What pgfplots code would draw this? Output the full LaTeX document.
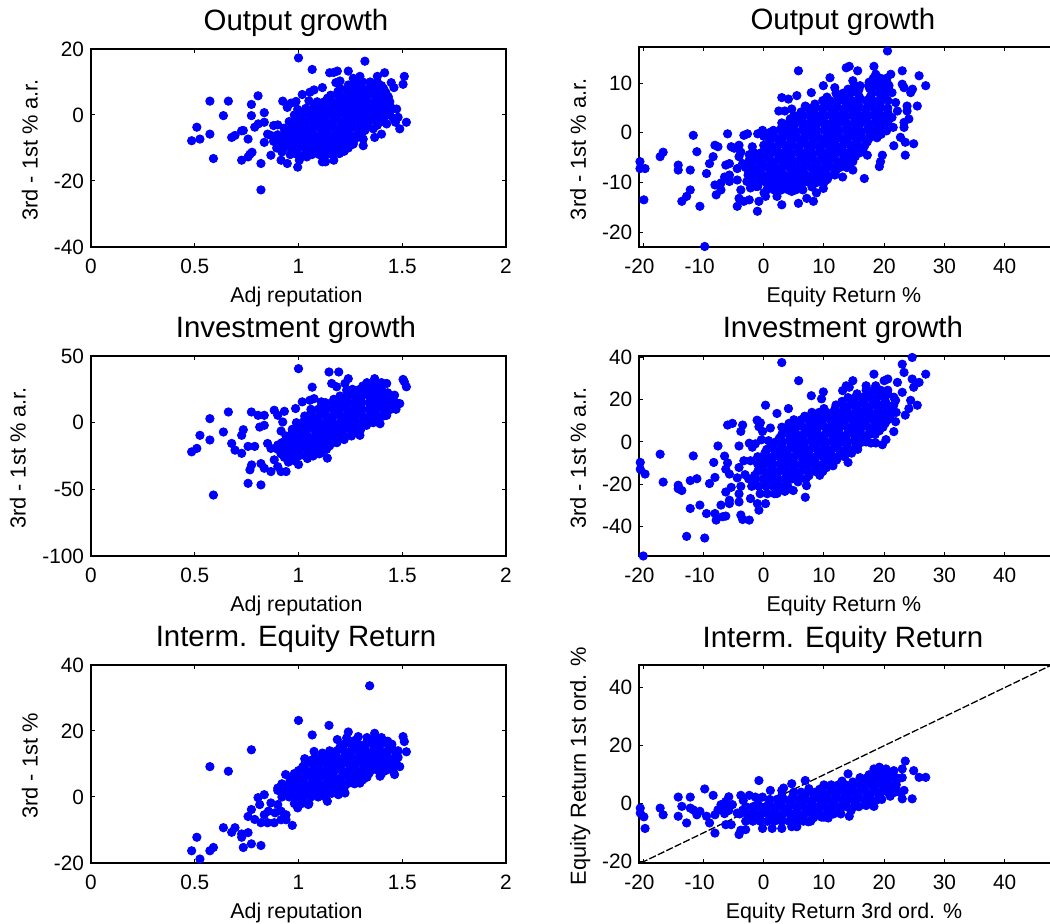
\documentclass[border=0pt]{standalone}
\usepackage{fontspec}
\setmainfont{Liberation Sans}
\usepackage{pgfplots}
\pgfplotsset{compat=1.18}
\definecolor{mblue}{rgb}{0,0,1}
\pgfplotsset{
 panel/.style={
  scale only axis, clip=false, tick align=inside, major tick length=2pt,
  tick style={black,line width=0.5pt}, axis line style={black,line width=1pt,-},
  /pgf/number format/assume math mode=true,
  xticklabel style={anchor=base,yshift=-13.5pt,font=\fontsize{10.4}{12}\selectfont},
  yticklabel style={anchor=east,inner sep=0pt,xshift=-3.3pt,font=\fontsize{10.4}{12}\selectfont},
  every axis x label/.style={anchor=base,font=\fontsize{10.7}{12}\selectfont},
  every axis y label/.style={anchor=base,rotate=90,font=\fontsize{10.9}{12}\selectfont},
  every axis title/.style={anchor=base,font=\fontsize{14.7}{17}\selectfont},
 },
 leftp/.style={panel,width=207.5pt,xmin=0,xmax=2,xtick={0,0.5,1,1.5,2},xticklabels={0,0.5,1,1.5,2},
  xlabel={Adj reputation},
  x label style={at={(axis description cs:0.495,-0.278)}},
  title style={at={(axis description cs:0.494,1.091)}}},
 rightp/.style={panel,width=207.35pt,xmin=-20.66,xmax=48.2,xtick={-20,-10,0,10,20,30,40},
  xticklabels={-20\kern3.8pt,-10\kern3.8pt,0,10,20,30,40},
  title style={at={(axis description cs:0.491,1.09)}},
  x label style={at={(axis description cs:0.4935,-0.278)}}},
 dots/.style={only marks,mark=*,mark size=2.1pt,color=mblue,mark options={fill=mblue,draw=none}},
}
\begin{document}
\begin{tikzpicture}
\useasboundingbox (0,0) rectangle (525pt,462pt);
% ---------- row 1 left
\begin{axis}[leftp,at={(45.5pt,338.5pt)},anchor=south west,height=99pt,ymin=-40,ymax=20,
 ytick={-40,-20,0,20},yticklabels={-40,-20,0,20},
 ylabel={3rd - 1st \% a.r.},y label style={at={(axis description cs:-0.1284,0.49)}},title={Output growth}]
\addplot[dots] coordinates {
(1.00,17.3)(1.066,13.8)(1.32,16.3)(1.24,13.3)(1.187,13.3)(1.15,12.8)(1.17,12.9)(1.415,12.8)(1.51,11.7)(1.504,9.3)(1.46,8.3)(1.447,9.8)(1.38,11.7)(1.296,11.7)(1.264,11.1)(1.115,8.3)(1.075,7.6)(1.055,6.9)(1.018,6.2)(1.18,9.8)(1.2,10.3)(0.988,4.1)(0.964,3.6)(0.924,4.2)(0.946,2.3)(1.05,4.3)(0.996,1.7)(0.573,4.2)(0.662,4.2)(0.805,5.8)(0.773,3.2)(0.638,-0.2)(0.773,-0.2)(0.835,0.7)(0.51,-3.7)(0.573,-5.8)(0.485,-7.8)(0.525,-7.3)(0.59,-13.2)(0.678,-6.8)(0.694,-6.2)(0.726,-4.8)(0.734,-4.7)(0.757,-7.3)(0.789,-3.7)(0.806,-2.7)(0.835,-2.2)(0.851,-5.8)(0.867,-6.2)(0.835,-8.3)(0.726,-13.7)(0.757,-12.7)(0.766,-11.9)(0.776,-11.3)(0.819,-14.7)(0.819,-22.7)(0.867,-12.2)(0.916,-13.7)(0.946,-14.7)(0.996,-15.8)(1.004,-13.7)(1.04,-12.7)(1.115,-14.2)(1.13,-14.2)(1.17,-13.7)(1.197,-11.7)(1.104,-11.7)(1.264,-8.8)(1.312,-9.3)(1.312,-7.3)(1.32,-4.7)(1.367,-6.8)(1.4,-5.8)(1.36,-4.2)(1.425,-2.7)(1.488,-4.2)(1.52,-2.2)(1.467,-2.2)(1.457,-1)(1.48,-0.7)(1.473,1.8)(1.44,2.5)(1.433,5.5)(0.88,-3.2)(0.9,-3)
(0.96,-12)(0.995,-12)(1.03,-12)(1.065,-12)(1.1,-12)(1.135,-12)(1.17,-12)
(0.895,-10)(0.93,-10)(0.965,-10)(1,-10)(1.035,-10)(1.07,-10)(1.105,-10)(1.14,-10)(1.175,-10)(1.21,-10)(1.24,-10)
(0.88,-8)(0.915,-8)(0.95,-8)(0.985,-8)(1.02,-8)(1.055,-8)(1.09,-8)(1.125,-8)(1.16,-8)(1.195,-8)(1.23,-8)(1.265,-8)
(0.9,-6)(0.935,-6)(0.97,-6)(1.005,-6)(1.04,-6)(1.075,-6)(1.11,-6)(1.145,-6)(1.18,-6)(1.215,-6)(1.25,-6)(1.285,-6)
(0.93,-4)(0.965,-4)(1,-4)(1.035,-4)(1.07,-4)(1.105,-4)(1.14,-4)(1.175,-4)(1.21,-4)(1.245,-4)(1.28,-4)(1.315,-4)
(0.955,-2)(0.99,-2)(1.025,-2)(1.06,-2)(1.095,-2)(1.13,-2)(1.165,-2)(1.2,-2)(1.235,-2)(1.27,-2)(1.305,-2)(1.34,-2)(1.375,-2)(1.4,-2)
(0.98,0)(1.015,0)(1.05,0)(1.085,0)(1.12,0)(1.155,0)(1.19,0)(1.225,0)(1.26,0)(1.295,0)(1.33,0)(1.365,0)(1.4,0)(1.43,0)
(1.035,2)(1.07,2)(1.105,2)(1.14,2)(1.175,2)(1.21,2)(1.245,2)(1.28,2)(1.315,2)(1.35,2)(1.385,2)(1.42,2)(1.45,2)
(1.09,4)(1.125,4)(1.16,4)(1.195,4)(1.23,4)(1.265,4)(1.3,4)(1.335,4)(1.37,4)(1.405,4)(1.44,4)
(1.155,6)(1.19,6)(1.225,6)(1.26,6)(1.295,6)(1.33,6)(1.365,6)(1.4,6)(1.425,6)
(1.2,8)(1.235,8)(1.27,8)(1.305,8)(1.34,8)(1.375,8)(1.41,8)
(1.275,10)(1.31,10)(1.345,10)(1.38,10)
(0.92,-11.2)(0.98,-10.8)(1.04,-11.3)(1.10,-10.9)(1.16,-11.1)(1.22,-11)
(0.90,-9.2)(0.96,-8.9)(1.02,-9.1)(1.08,-8.8)(1.14,-9.2)(1.20,-9)(1.26,-8.9)
(0.92,-7.1)(0.98,-6.8)(1.04,-7.2)(1.10,-7)(1.16,-6.9)(1.22,-7.1)(1.28,-6.9)
(0.94,-5.2)(1,-4.9)(1.06,-5.1)(1.12,-4.8)(1.18,-5.2)(1.24,-5)(1.30,-4.9)
(0.97,-3.1)(1.03,-2.8)(1.09,-3.2)(1.15,-3)(1.21,-2.9)(1.27,-3.1)(1.33,-2.9)(1.38,-3.1)
(1,-1.1)(1.06,-0.8)(1.12,-1.2)(1.18,-1)(1.24,-0.9)(1.3,-1.1)(1.36,-0.9)(1.41,-1.1)
(1.03,0.9)(1.09,1.2)(1.15,0.8)(1.21,1)(1.27,1.1)(1.33,0.9)(1.39,1.1)(1.44,0.9)
(1.08,3.1)(1.14,2.8)(1.2,3.2)(1.26,3)(1.32,2.9)(1.38,3.1)(1.44,2.9)
(1.14,5.1)(1.2,4.8)(1.26,5.2)(1.32,5)(1.38,4.9)(1.43,5.1)
(1.19,7.1)(1.25,6.8)(1.31,7.2)(1.37,7)(1.42,6.9)
(1.24,9.1)(1.30,8.9)(1.36,9.1)(1.40,8.9)
};
\end{axis}
% ---------- row 1 right
\begin{axis}[rightp,at={(319.65pt,338.5pt)},anchor=south west,height=99.75pt,ymin=-23,ymax=17.2,
 ytick={-20,-10,0,10},yticklabels={-20,-10,0,10},xlabel={Equity Return \%},
 ylabel={3rd - 1st \% a.r.},y label style={at={(axis description cs:-0.1286,0.49)}},title={Output growth}]
\addplot[dots] coordinates {
(20.55,16.5)(-9.8,-22.9)(5.76,12.5)(13.7,13.1)(14.2,13.4)(18.3,13.4)(15.6,12.5)(23,12.5)(18.6,11.8)(21.1,11.8)(11,11.1)(25.8,11.5)(26.9,9.5)(23,9.8)(23.3,9.1)(24.7,8.8)(24.4,8.1)(9.9,9.5)(7.9,8.1)(11.8,9.1)(5.5,7.5)(4.1,6.8)(3,7.1)(14.8,10.5)(6.9,5.4)(2.5,4.4)(3.5,4.4)(4.65,4.8)(25.5,5.4)(23.8,5.4)(23.8,4.4)(22.2,4.4)(24.1,2.8)(23.3,2.1)(23.3,1.1)(21.3,3.1)(21.9,6.1)(21.3,8.1)(24.9,-2.2)(23.5,-1.9)(21.6,-2.6)(23.5,-4.5)(22.7,-0.9)(21.5,1.1)(20.4,0.4)(19.7,-4.5)(19.4,-5.8)(19.2,-6.8)(17.2,-4.5)(16.7,-9.2)(14.8,-7.5)(14.8,-5.8)(13.7,-6.8)(13.1,-8.9)(15.9,-3.8)(10.4,-9.5)(9.9,-11.2)(8.75,-12.1)(8.25,-13.8)(7.15,-13.2)(5.76,-14.2)(4.65,-11.8)(3,-14.5)(3.3,-11.1)(2.2,-12.8)(0.3,-12.8)(0.05,-12.1)(-0.8,-13.8)(-1.05,-15.8)(-2.4,-13.5)(-3.3,-13.8)(-4.4,-14.8)(-4.1,-13.2)(-3.8,-11.5)(-4.4,-9.5)(-6,-0.2)(-11.7,-0.5)(-16.7,-3.9)(-17.2,-4.8)(-11.1,-3.8)(-20.55,-5.8)(-20.55,-7.2)(-19.7,-7.2)(-19.9,-13.5)(-14.2,-6.5)(-14.2,-7.5)(-12.2,-7.5)(-12.2,-11.5)(-12.8,-12.8)(-13.6,-13.8)(-10.6,-14.8)(-9.5,-8.2)(-9,-6.2)(-8.4,-4.8)(-8.1,-2.5)(-7.6,-2.8)(-8.1,-10.5)(-7.9,-12.5)(-7.1,-11.5)(-7.1,-10.1)(-6.3,-6.5)(-5.7,-6.2)(-6.5,-8.9)(-5.7,-8.5)(-5.7,-9.8)(-5.4,-2.8)(-4.9,-3.1)(-4.1,-2.5)(-3.3,-0.5)(-2.7,-0.2)(-4.1,-4.8)(-3.8,-3.9)(-4.4,-7.2)(-3.5,-6.2)(-2.4,-6.8)(-2.4,-4.4)(-1.9,-2.8)(-1,-0.2)(-0.2,0.5)(1.05,0.1)(-2.8,-9.8)(-2.2,-11.1)(-1.3,-10.8)(0,-0.7)
(0.5,-11.5)(1.7,-11.5)(2.9,-11.5)(4.1,-11.5)(5.3,-11.5)(6.5,-11.5)
(-2,-10)(-0.8,-10)(0.4,-10)(1.6,-10)(2.8,-10)(4,-10)(5.2,-10)(6.4,-10)(7.6,-10)(8.8,-10)(10,-10)
(-2.6,-8.5)(-1.4,-8.5)(-0.2,-8.5)(1,-8.5)(2.2,-8.5)(3.4,-8.5)(4.6,-8.5)(5.8,-8.5)(7,-8.5)(8.2,-8.5)(9.4,-8.5)(10.6,-8.5)(11.8,-8.5)
(-3,-7)(-1.8,-7)(-0.6,-7)(0.6,-7)(1.8,-7)(3,-7)(4.2,-7)(5.4,-7)(6.6,-7)(7.8,-7)(9,-7)(10.2,-7)(11.4,-7)(12.6,-7)(13.8,-7)
(-2.4,-5.5)(-1.2,-5.5)(0,-5.5)(1.2,-5.5)(2.4,-5.5)(3.6,-5.5)(4.8,-5.5)(6,-5.5)(7.2,-5.5)(8.4,-5.5)(9.6,-5.5)(10.8,-5.5)(12,-5.5)(13.2,-5.5)(14.4,-5.5)
(-1.6,-4)(-0.4,-4)(0.8,-4)(2,-4)(3.2,-4)(4.4,-4)(5.6,-4)(6.8,-4)(8,-4)(9.2,-4)(10.4,-4)(11.6,-4)(12.8,-4)(14,-4)(15.2,-4)(16,-4)
(0,-2.5)(1.2,-2.5)(2.4,-2.5)(3.6,-2.5)(4.8,-2.5)(6,-2.5)(7.2,-2.5)(8.4,-2.5)(9.6,-2.5)(10.8,-2.5)(12,-2.5)(13.2,-2.5)(14.4,-2.5)(15.6,-2.5)(16.8,-2.5)
(0.8,-1)(2,-1)(3.2,-1)(4.4,-1)(5.6,-1)(6.8,-1)(8,-1)(9.2,-1)(10.4,-1)(11.6,-1)(12.8,-1)(14,-1)(15.2,-1)(16.4,-1)(17.6,-1)(18.8,-1)
(1.6,0.5)(2.8,0.5)(4,0.5)(5.2,0.5)(6.4,0.5)(7.6,0.5)(8.8,0.5)(10,0.5)(11.2,0.5)(12.4,0.5)(13.6,0.5)(14.8,0.5)(16,0.5)(17.2,0.5)(18.4,0.5)(19.6,0.5)
(3,2)(4.2,2)(5.4,2)(6.6,2)(7.8,2)(9,2)(10.2,2)(11.4,2)(12.6,2)(13.8,2)(15,2)(16.2,2)(17.4,2)(18.6,2)(19.8,2)(20.6,2)
(5,3.5)(6.2,3.5)(7.4,3.5)(8.6,3.5)(9.8,3.5)(11,3.5)(12.2,3.5)(13.4,3.5)(14.6,3.5)(15.8,3.5)(17,3.5)(18.2,3.5)(19.4,3.5)(20.6,3.5)
(7.4,5)(8.6,5)(9.8,5)(11,5)(12.2,5)(13.4,5)(14.6,5)(15.8,5)(17,5)(18.2,5)(19.4,5)(20.6,5)
(9.8,6.5)(11,6.5)(12.2,6.5)(13.4,6.5)(14.6,6.5)(15.8,6.5)(17,6.5)(18.2,6.5)(19.4,6.5)(20.6,6.5)
(12,8)(13.2,8)(14.4,8)(15.6,8)(18,8)(19.2,8)(20.4,8)
(15,9.5)(16,9.5)(17.4,9.5)(18.6,9.5)(19.8,9.5)(20.8,9.5)
(18.2,11)(19.4,11)(20.4,11)
(-1,-10.8)(0.8,-10.7)(2.6,-10.9)(4.4,-10.8)(6.2,-10.7)(8,-10.9)
(-2,-9.2)(-0.2,-9.3)(1.6,-9.1)(3.4,-9.2)(5.2,-9.3)(7,-9.1)(8.8,-9.2)(10.6,-9.3)
(-2.5,-7.8)(-0.7,-7.7)(1.1,-7.9)(2.9,-7.8)(4.7,-7.7)(6.5,-7.9)(8.3,-7.8)(10.1,-7.7)(11.9,-7.9)
(-2,-6.2)(-0.2,-6.3)(1.6,-6.1)(3.4,-6.2)(5.2,-6.3)(7,-6.1)(8.8,-6.2)(10.6,-6.3)(12.4,-6.1)(14.2,-6.2)
(-1,-4.8)(0.8,-4.7)(2.6,-4.9)(4.4,-4.8)(6.2,-4.7)(8,-4.9)(9.8,-4.8)(11.6,-4.7)(13.4,-4.9)(15.2,-4.8)
(0.3,-3.2)(2.1,-3.3)(3.9,-3.1)(5.7,-3.2)(7.5,-3.3)(9.3,-3.1)(11.1,-3.2)(12.9,-3.3)(14.7,-3.1)(16.5,-3.2)
(1,-1.8)(2.8,-1.7)(4.6,-1.9)(6.4,-1.8)(8.2,-1.7)(10,-1.9)(11.8,-1.8)(13.6,-1.7)(15.4,-1.9)(17.2,-1.8)
(1.5,-0.2)(3.3,-0.3)(5.1,-0.1)(6.9,-0.2)(8.7,-0.3)(10.5,-0.1)(12.3,-0.2)(14.1,-0.3)(15.9,-0.1)(17.7,-0.2)(19.5,-0.3)
(3,1.2)(4.8,1.3)(6.6,1.1)(8.4,1.2)(10.2,1.3)(12,1.1)(13.8,1.2)(15.6,1.3)(17.4,1.1)(19.2,1.2)
(4.4,2.8)(6.2,2.7)(8,2.9)(9.8,2.8)(11.6,2.7)(13.4,2.9)(15.2,2.8)(17,2.7)(18.8,2.9)(20.6,2.8)
(6.2,4.2)(8,4.3)(9.8,4.1)(11.6,4.2)(13.4,4.3)(15.2,4.1)(17,4.2)(18.8,4.3)(20.6,4.1)
(8.5,5.8)(10.3,5.7)(12.1,5.9)(13.9,5.8)(15.7,5.7)(17.5,5.9)(19.3,5.8)
(10.5,7.2)(12.3,7.3)(14.1,7.1)(15.9,7.2)(17.7,7.3)(19.5,7.1)
(14,8.8)(15.8,8.7)(17.6,8.9)(19.4,8.8)
(17.5,10.2)(19.2,10.3)(20.5,10.1)
};
\end{axis}
% ---------- row 2 left
\begin{axis}[leftp,at={(45.5pt,184pt)},anchor=south west,height=100pt,ymin=-100,ymax=50,
 ytick={-100,-50,0,50},yticklabels={-100,-50,0,50},
 ylabel={3rd - 1st \% a.r.},y label style={at={(axis description cs:-0.1573,0.49)}},title={Investment growth}]
\addplot[dots] coordinates {
(1,40.5)(1.147,38)(1.194,38)(1.24,33)(1.224,29.4)(1.16,29.4)(1.184,26.9)(1.066,26.6)(1.232,24.4)(1.367,33)(1.425,29.4)(1.504,32.4)(1.51,30.7)(1.52,26.9)(1.463,20.6)(1.488,14.3)(1.473,13)(1.425,5.5)(1.393,-0.8)(1.328,-2)(1.296,-9.5)(1.139,-26.6)(1.018,15.6)(0.986,10.6)(1.075,18)(1.055,16.8)(1.11,15.6)(0.883,9.3)(0.932,8.5)(0.9,5.5)(0.835,5.5)(0.805,5.5)(0.773,8)(0.662,8)(0.573,3)(0.525,-9.5)(0.638,-7)(0.734,-5.3)(0.726,-9.5)(0.835,-2)(0.813,-3.3)(0.924,0.5)(0.916,-6.3)(0.573,-13)(0.485,-21.9)(0.51,-19.3)(0.678,-15.6)(0.694,-20.6)(0.726,-23)(0.757,-17.8)(0.789,-17.8)(0.851,-15.6)(0.867,-19.3)(0.9,-16.8)(0.59,-54.3)(0.757,-45.5)(0.819,-46.7)(0.766,-35.4)(0.774,-31.7)(0.819,-30.7)(0.835,-34.2)(0.867,-36.7)(0.883,-27.9)(0.916,-36.7)(0.94,-36.7)(0.9,-33)(1,-31.4)(0.932,-26)(0.916,-23.4)(0.951,-29.6)(0.978,-28.4)(1.043,-26.9)(1.1,-23.4)
(0.93,-25)(0.965,-25)(1,-25)(1.035,-25)(1.07,-25)
(0.9,-20)(0.935,-20)(0.97,-20)(1.005,-20)(1.04,-20)(1.075,-20)(1.11,-20)(1.135,-20)
(0.92,-15)(0.955,-15)(0.99,-15)(1.025,-15)(1.06,-15)(1.095,-15)(1.13,-15)(1.165,-15)(1.185,-15)
(0.94,-10)(0.975,-10)(1.01,-10)(1.045,-10)(1.08,-10)(1.115,-10)(1.15,-10)(1.185,-10)(1.22,-10)(1.255,-10)
(0.97,-5)(1.005,-5)(1.04,-5)(1.075,-5)(1.11,-5)(1.145,-5)(1.18,-5)(1.215,-5)(1.25,-5)(1.285,-5)(1.3,-5)
(0.99,0)(1.025,0)(1.06,0)(1.095,0)(1.13,0)(1.165,0)(1.2,0)(1.235,0)(1.27,0)(1.305,0)(1.34,0)(1.36,0)
(1.03,5)(1.065,5)(1.1,5)(1.135,5)(1.17,5)(1.205,5)(1.24,5)(1.275,5)(1.31,5)(1.345,5)(1.38,5)(1.41,5)
(1.06,10)(1.095,10)(1.13,10)(1.165,10)(1.2,10)(1.235,10)(1.27,10)(1.305,10)(1.34,10)(1.375,10)(1.41,10)(1.445,10)(1.47,10)
(1.13,15)(1.165,15)(1.2,15)(1.235,15)(1.27,15)(1.305,15)(1.34,15)(1.375,15)(1.41,15)(1.445,15)(1.47,15)
(1.2,20)(1.235,20)(1.27,20)(1.305,20)(1.34,20)(1.375,20)(1.41,20)(1.45,20)
(1.26,25)(1.295,25)(1.33,25)(1.365,25)(1.4,25)
(1.33,30)(1.365,30)(1.4,30)
(0.94,-22.5)(1,-22.8)(1.06,-22.3)(1.11,-22.6)
(0.93,-17.5)(0.99,-17.8)(1.05,-17.3)(1.11,-17.6)(1.15,-17.4)
(0.95,-12.5)(1.01,-12.8)(1.07,-12.3)(1.13,-12.6)(1.19,-12.4)(1.22,-12.7)
(0.97,-7.5)(1.03,-7.8)(1.09,-7.3)(1.15,-7.6)(1.21,-7.4)(1.27,-7.7)
(1,-2.5)(1.06,-2.8)(1.12,-2.3)(1.18,-2.6)(1.24,-2.4)(1.3,-2.7)
(1.03,2.5)(1.09,2.2)(1.15,2.7)(1.21,2.4)(1.27,2.6)(1.33,2.3)(1.38,2.5)
(1.06,7.5)(1.12,7.2)(1.18,7.7)(1.24,7.4)(1.3,7.6)(1.36,7.3)(1.42,7.5)
(1.11,12.5)(1.17,12.2)(1.23,12.7)(1.29,12.4)(1.35,12.6)(1.41,12.3)(1.46,12.5)
(1.17,17.5)(1.23,17.2)(1.29,17.7)(1.35,17.4)(1.41,17.6)(1.45,17.3)
(1.25,22.5)(1.31,22.2)(1.37,22.7)(1.43,22.4)
(1.31,27.5)(1.36,27.2)(1.4,27.7)
};
\end{axis}
% ---------- row 2 right
\begin{axis}[rightp,at={(319.65pt,184pt)},anchor=south west,height=100pt,ymin=-54,ymax=40.7,
 ytick={-40,-20,0,20,40},yticklabels={-40,-20,0,20,40},xlabel={Equity Return \%},
 ylabel={3rd - 1st \% a.r.},y label style={at={(axis description cs:-0.1286,0.49)}},title={Investment growth}]
\addplot[dots] coordinates {
(24.65,40)(3,37.6)(23,36.8)(23.3,32.9)(18.3,32.1)(26.9,32.1)(24.65,29.8)(25.8,28.2)(24.9,25.9)(5.8,29)(14.8,29)(20,29)(20.6,29.8)(22.2,28.2)(13.7,26.6)(14.2,25.9)(17,26.6)(18.6,26.6)(13.1,24.3)(9.9,23.7)(7.9,21.9)(9.6,20.4)(23,23.5)(21.6,21.2)(21.9,19.7)(24.4,19.7)(25.5,17.4)(24.1,15.8)(23.5,12.7)(21.9,9.6)(21.6,4.9)(20.3,1.1)(19.7,-1.3)(18.6,-0.5)(17.8,-0.5)(14,-9.7)(11.5,-11.3)(7.1,-20.7)(6.9,-26.2)(0.3,17.4)(2.2,13.5)(4.1,15.8)(-1.1,10.3)(-0.55,9.1)(-0.8,7.2)(-0.2,5)(1.1,6.6)(-3.5,8)(-3.8,5)(-5.2,8.8)(-6,8)(-7.6,-1.9)(-4.1,-1.9)(-2.4,-0.6)(-1.9,-2.5)(-1.4,-0.9)(-0.4,1)(0.8,0.6)(1.3,-2.5)(-6.5,-6.7)(-6,-9.9)(-6.3,-12.9)(-5.7,-15.2)(-4.1,-12.1)(-3.3,-8.9)(-2.2,-8.9)(-8.3,-9.7)(-8.1,-16.8)(-9,-19.7)(-11.1,-17.4)(-12.2,-18.3)(-11.7,-6.6)(-17.2,-5.8)(-16.7,-19)(-14.2,-20.5)(-14.2,-22.1)(-13.6,-23)(-20.5,-9.7)(-20.5,-12.9)(-19.7,-15.2)(-12.2,-31.5)(-10.6,-29.9)(-9.5,-33.9)(-12.8,-44.7)(-9.8,-45.5)(-20,-54)(-8.1,-33.9)(-7.9,-37)(-7.1,-29.9)(-6.8,-35.4)(-6.3,-35.1)(-5.7,-27.6)(-5.7,-29.2)(-6.3,-23.7)(-5.4,-21.5)(-4.1,-24.6)(-4.1,-28.4)(-3.8,-34.6)(-3.5,-36.7)(-2.4,-37)(-2.2,-26.8)(-1.05,-29.2)(-0.8,-32.3)(0.3,-29.2)(-3.8,-21)(-4.4,-17)(-3.1,-15.5)(3.5,-23.4)(4.9,-23)(4.1,-22.3)(2.2,-24.4)
(-0.6,-24.5)(0.6,-24.5)(1.8,-24.5)
(-2,-21)(-0.8,-21)(0.4,-21)(1.6,-21)(2.8,-21)(4,-21)
(-2.5,-17.5)(-1.3,-17.5)(-0.1,-17.5)(1.1,-17.5)(2.3,-17.5)(3.5,-17.5)(4.7,-17.5)(5.9,-17.5)(7,-17.5)
(-1,-14)(0.2,-14)(1.4,-14)(2.6,-14)(3.8,-14)(5,-14)(6.2,-14)(7.4,-14)(8.6,-14)(9.8,-14)
(-1,-10.5)(0.2,-10.5)(1.4,-10.5)(2.6,-10.5)(3.8,-10.5)(5,-10.5)(6.2,-10.5)(7.4,-10.5)(8.6,-10.5)(9.8,-10.5)(11,-10.5)
(-1,-7)(0.2,-7)(1.4,-7)(2.6,-7)(3.8,-7)(5,-7)(6.2,-7)(7.4,-7)(8.6,-7)(9.8,-7)(11,-7)(12.2,-7)(13.4,-7)
(0.5,-3.5)(1.7,-3.5)(2.9,-3.5)(4.1,-3.5)(5.3,-3.5)(6.5,-3.5)(7.7,-3.5)(8.9,-3.5)(10.1,-3.5)(11.3,-3.5)(12.5,-3.5)(13.7,-3.5)(14.9,-3.5)(15.6,-3.5)
(2,0)(3.2,0)(4.4,0)(5.6,0)(6.8,0)(8,0)(9.2,0)(10.4,0)(11.6,0)(12.8,0)(14,0)(15.2,0)(16.4,0)(17,0)
(3,3.5)(4.2,3.5)(5.4,3.5)(6.6,3.5)(7.8,3.5)(9,3.5)(10.2,3.5)(11.4,3.5)(12.6,3.5)(13.8,3.5)(15,3.5)(16.2,3.5)(17.4,3.5)(18.5,3.5)
(3,7)(4.2,7)(5.4,7)(6.6,7)(7.8,7)(9,7)(10.2,7)(11.4,7)(12.6,7)(13.8,7)(15,7)(16.2,7)(17.4,7)(18.6,7)(19.8,7)
(5,10.5)(6.2,10.5)(7.4,10.5)(8.6,10.5)(9.8,10.5)(11,10.5)(12.2,10.5)(13.4,10.5)(14.6,10.5)(15.8,10.5)(17,10.5)(18.2,10.5)(19.4,10.5)(20.6,10.5)
(8,14)(9.2,14)(10.4,14)(11.6,14)(12.8,14)(14,14)(15.2,14)(16.4,14)(17.6,14)(18.8,14)(20,14)(21.2,14)(22,14)
(12,17.5)(13.2,17.5)(14.4,17.5)(15.6,17.5)(16.8,17.5)(18,17.5)(19.2,17.5)(20.4,17.5)(21.6,17.5)
(14,21)(15.2,21)(16.4,21)(17.6,21)(18.8,21)(20,21)
(17,24.5)(18.2,24.5)(19.4,24.5)(20.6,24.5)
(-1.5,-19.2)(0.3,-18.8)(2.1,-19.3)(3.9,-19)(5.7,-18.9)
(-1.5,-15.8)(0.3,-16.1)(2.1,-15.6)(3.9,-15.9)(5.7,-15.7)(7.5,-16)(9.3,-15.8)
(-0.4,-12.2)(1.4,-12.5)(3.2,-12)(5,-12.3)(6.8,-12.1)(8.6,-12.4)(10.4,-12.2)
(-0.5,-8.8)(1.3,-9)(3.1,-8.6)(4.9,-8.9)(6.7,-8.7)(8.5,-9)(10.3,-8.8)(12.1,-8.6)
(0.2,-5.2)(2,-5.5)(3.8,-5)(5.6,-5.3)(7.4,-5.1)(9.2,-5.4)(11,-5.2)(12.8,-5)(14.6,-5.3)
(1.2,-1.8)(3,-2)(4.8,-1.6)(6.6,-1.9)(8.4,-1.7)(10.2,-2)(12,-1.8)(13.8,-1.6)(15.6,-1.9)
(2.6,1.8)(4.4,1.5)(6.2,2)(8,1.7)(9.8,1.9)(11.6,1.6)(13.4,1.8)(15.2,2)(17,1.7)
(3.4,5.2)(5.2,5)(7,5.4)(8.8,5.1)(10.6,5.3)(12.4,5)(14.2,5.2)(16,5.4)(17.8,5.1)(19.2,5.3)
(4.2,8.8)(6,8.5)(7.8,9)(9.6,8.7)(11.4,8.9)(13.2,8.6)(15,8.8)(16.8,9)(18.6,8.7)(20.2,8.9)
(6.8,12.2)(8.6,12)(10.4,12.4)(12.2,12.1)(14,12.3)(15.8,12)(17.6,12.2)(19.4,12.4)(21,12.1)
(10,15.8)(11.8,15.5)(13.6,16)(15.4,15.7)(17.2,15.9)(19,15.6)(20.8,15.8)
(13,19.2)(14.8,19)(16.6,19.4)(18.4,19.1)(20.2,19.3)
(15.5,22.8)(17.3,22.5)(19.1,23)(20.6,22.7)
};
\end{axis}
% ---------- row 3 left
\begin{axis}[leftp,at={(45.5pt,30.5pt)},anchor=south west,height=99pt,ymin=-20,ymax=40,
 ytick={-20,0,20,40},yticklabels={-20,0,20,40},
 ylabel={3rd - 1st \%},y label style={at={(axis description cs:-0.1284,0.49)}},title={Interm. Equity Return}]
\addplot[dots] coordinates {
(1.343,33.7)(1,23.2)(1.147,21.7)(1.066,18.8)(1.24,19.7)(1.367,19.3)(1.288,18.3)(1.232,17.9)(1.504,18.3)(1.51,16.8)(1.52,13.7)(0.773,14.3)(0.573,9.2)(0.662,7.8)(1.463,6.8)(1.488,9.2)(1.393,6.3)(1.296,4.2)(1.224,1.2)(1.192,0.7)(1.139,-1.3)(0.938,6.8)(0.9,2.7)(1.075,13.8)(1.187,17.4)(1.115,13.3)(1.03,11.6)(0.835,0.7)(0.805,-0.2)(0.813,-2.3)(0.773,-3.8)(0.757,-5.9)(0.789,-6.8)(0.819,-7.8)(0.851,-7.8)(0.883,-7.8)(0.835,-5.4)(0.867,-1.8)(0.9,-2.3)(0.916,-6.9)(0.94,-6.9)(0.97,-8.6)(0.94,-5.4)(0.855,-4.3)(0.887,-4.8)(0.916,-4.3)(0.638,-9.3)(0.694,-9.3)(0.678,-10.7)(0.726,-11.2)(0.726,-12.2)(0.757,-10.8)(0.773,-14.2)(0.734,-15.3)(0.819,-14.7)(0.51,-12.2)(0.485,-16.3)(0.573,-16.3)(0.59,-15.3)(0.525,-18.8)(0.996,-3.3)(1.047,-2.3)
(0.98,-2)(1.015,-2)(1.05,-2)
(0.92,0)(0.955,0)(0.99,0)(1.025,0)(1.06,0)(1.095,0)(1.13,0)
(0.9,2)(0.935,2)(0.97,2)(1.005,2)(1.04,2)(1.075,2)(1.11,2)(1.145,2)(1.18,2)(1.2,2)
(0.92,4)(0.955,4)(0.99,4)(1.025,4)(1.06,4)(1.095,4)(1.13,4)(1.165,4)(1.2,4)(1.235,4)(1.27,4)
(0.96,6)(0.995,6)(1.03,6)(1.065,6)(1.1,6)(1.135,6)(1.17,6)(1.205,6)(1.24,6)(1.275,6)(1.31,6)(1.33,6)
(1,8)(1.035,8)(1.07,8)(1.105,8)(1.14,8)(1.175,8)(1.21,8)(1.245,8)(1.28,8)(1.315,8)(1.35,8)(1.385,8)(1.42,8)(1.455,8)
(1.03,10)(1.065,10)(1.1,10)(1.135,10)(1.17,10)(1.205,10)(1.24,10)(1.275,10)(1.31,10)(1.345,10)(1.38,10)(1.415,10)(1.45,10)(1.47,10)
(1.08,12)(1.115,12)(1.15,12)(1.185,12)(1.22,12)(1.255,12)(1.29,12)(1.325,12)(1.36,12)(1.395,12)(1.43,12)(1.465,12)(1.48,12)
(1.15,14)(1.185,14)(1.22,14)(1.255,14)(1.29,14)(1.325,14)(1.36,14)(1.395,14)(1.43,14)(1.465,14)(1.48,14)
(1.22,16)(1.255,16)(1.29,16)(1.325,16)(1.36,16)(1.395,16)(1.43,16)(1.45,16)
(1.33,18)(1.365,18)(1.4,18)
(0.93,1.1)(0.99,0.8)(1.05,1.2)(1.11,0.9)(1.16,1.1)
(0.92,3.1)(0.98,2.8)(1.04,3.2)(1.1,2.9)(1.16,3.1)(1.22,2.8)
(0.96,5.1)(1.02,4.8)(1.08,5.2)(1.14,4.9)(1.2,5.1)(1.26,4.8)(1.31,5.2)
(0.98,7.1)(1.04,6.8)(1.1,7.2)(1.16,6.9)(1.22,7.1)(1.28,6.8)(1.34,7.2)(1.4,7)
(1.02,9.1)(1.08,8.8)(1.14,9.2)(1.2,8.9)(1.26,9.1)(1.32,8.8)(1.38,9.2)(1.44,9)
(1.06,11.1)(1.12,10.8)(1.18,11.2)(1.24,10.9)(1.3,11.1)(1.36,10.8)(1.42,11.2)(1.47,11)
(1.12,13.1)(1.18,12.8)(1.24,13.2)(1.3,12.9)(1.36,13.1)(1.42,12.8)(1.47,13.2)
(1.2,15.1)(1.26,14.8)(1.32,15.2)(1.38,14.9)(1.44,15.1)
(1.27,17.1)(1.33,16.8)(1.39,17.2)(1.43,16.9)
};
\end{axis}
% ---------- row 3 right
\begin{axis}[rightp,at={(319.65pt,30.5pt)},anchor=south west,height=99pt,ymin=-20.4,ymax=47.8,
 ytick={-20,0,20,40},yticklabels={-20,0,20,40},xlabel={Equity Return 3rd ord. \%},
 ylabel={Equity Return 1st ord. \%},y label style={at={(axis description cs:-0.1286,0.49)}},title={Interm. Equity Return}]
\addplot[dots] coordinates {
(23.5,14.7)(19.2,12.6)(18.3,12)(20.3,12)(21.6,11.4)(24.9,11.4)(23,12)(26.9,9.1)(25.8,9.1)(14,10.3)(6.9,8)(-0.8,8)(4.65,6.9)(-9.8,5.1)(1.1,4.6)(-8.4,2.9)(-5.8,2.4)(-3.8,2.9)(-2.4,2.9)(-14.2,2.3)(-12.2,2.3)(3,4.6)(3.3,5.4)(23,1.7)(24.65,1.7)(23.3,4.6)(18.3,-0.9)(17,-0.6)(14.2,-4.3)(10.7,-4.9)(9.6,-4.6)(-20.5,-1.5)(-20.5,-3.2)(-19.9,-4.5)(-19.7,-8.5)(-17.2,-1.5)(-16.7,-3.8)(-14.2,-4.3)(-13.6,-0.9)(-12.8,-6.6)(-12.2,-1.5)(-11.7,-2.1)(-11.1,-3.8)(-10.6,-2.6)(-9.5,-4.3)(-9,-6.6)(-8.1,-10.1)(-8.1,-3.8)(-7.6,-2.1)(-7.1,-0.3)(-6.5,-0.9)(-6.3,0.8)(-5.2,-0.3)(-6.3,-7.2)(-5.4,-7.2)(-6.5,-3.4)(-5.8,-2.3)(-4.1,-10.6)(-3,-8.9)(-3.8,-9.1)(-4.4,-3.2)(-3.4,1.1)(-1.4,2.3)(-0.2,2.3)(-0.2,-8.5)(1.4,-8.5)(3,-8.5)(4.65,-7.9)(5.5,-7.9)(7.4,-6.2)
(-3,-6)(-1.8,-6)(-0.6,-6)(0.6,-6)(1.8,-6)(3,-6)(4.2,-6)(5.4,-6)(6.6,-6)(7.8,-6)
(-4,-3.5)(-2.8,-3.5)(-1.6,-3.5)(-0.4,-3.5)(0.8,-3.5)(2,-3.5)(3.2,-3.5)(4.4,-3.5)(5.6,-3.5)(6.8,-3.5)(8,-3.5)(9.2,-3.5)(10.4,-3.5)(11.6,-3.5)(12.8,-3.5)
(-3,-1)(-1.8,-1)(-0.6,-1)(0.6,-1)(1.8,-1)(3,-1)(4.2,-1)(5.4,-1)(6.6,-1)(7.8,-1)(9,-1)(10.2,-1)(11.4,-1)(12.6,-1)(13.8,-1)(15,-1)(15.8,-1)
(1,1.5)(2.2,1.5)(3.4,1.5)(4.6,1.5)(5.8,1.5)(7,1.5)(8.2,1.5)(9.4,1.5)(10.6,1.5)(11.8,1.5)(13,1.5)(14.2,1.5)(15.4,1.5)(16.6,1.5)(17.8,1.5)(19,1.5)(19.6,1.5)
(5,4)(6.2,4)(7.4,4)(8.6,4)(9.8,4)(11,4)(12.2,4)(13.4,4)(14.6,4)(15.8,4)(17,4)(18.2,4)(19.4,4)(20.6,4)(21.8,4)(22.5,4)
(10,6.5)(11.2,6.5)(12.4,6.5)(13.6,6.5)(14.8,6.5)(16,6.5)(17.2,6.5)(18.4,6.5)(19.6,6.5)(20.8,6.5)(22,6.5)
(16,9)(17.2,9)(18.4,9)(19.6,9)(20.8,9)(22,9)(23,9)
(18.5,11)(19.6,11)(20.6,11)
(-2.5,-4.8)(-0.7,-5)(1.1,-4.6)(2.9,-4.9)(4.7,-4.7)(6.5,-5)(8.3,-4.8)(10,-4.6)
(-3.5,-2.2)(-1.7,-2.5)(0.1,-2)(1.9,-2.3)(3.7,-2.1)(5.5,-2.4)(7.3,-2.2)(9.1,-2)(10.9,-2.3)(12.7,-2.1)(14.5,-2.4)
(-1,0.2)(0.8,0)(2.6,0.4)(4.4,0.1)(6.2,0.3)(8,0)(9.8,0.2)(11.6,0.4)(13.4,0.1)(15.2,0.3)(17,0)
(3,2.8)(4.8,2.5)(6.6,3)(8.4,2.7)(10.2,2.9)(12,2.6)(13.8,2.8)(15.6,3)(17.4,2.7)(19.2,2.9)(21,2.6)
(7.5,5.2)(9.3,5)(11.1,5.4)(12.9,5.1)(14.7,5.3)(16.5,5)(18.3,5.2)(20.1,5.4)(21.9,5.1)
(13,7.8)(14.8,7.5)(16.6,8)(18.4,7.7)(20.2,7.9)(22,7.6)
(17.5,10)(19.3,9.8)(21,10.2)
};
\addplot[black,line width=0.65pt,dash pattern=on 3.6pt off 1.1pt] coordinates {(-20.4,-20.4)(47.8,47.8)};
\end{axis}
\end{tikzpicture}
\end{document}
